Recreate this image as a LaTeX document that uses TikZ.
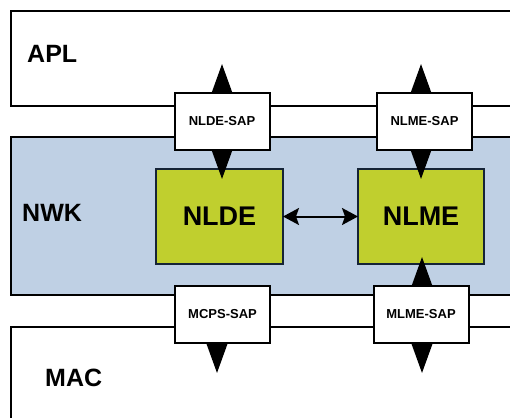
\documentclass[tikz,border=0pt]{standalone}
\usepackage{fontspec}
\setmainfont{Liberation Sans}
\usetikzlibrary{arrows.meta}
\definecolor{nwkblue}{RGB}{191,208,228}
\definecolor{entgreen}{RGB}{192,207,46}
\definecolor{entborder}{RGB}{22,36,54}
\begin{document}
\begin{tikzpicture}[x=1pt,y=-1pt,
  layer/.style={draw=black, line width=2pt, rectangle, anchor=north west, inner sep=0pt, outer sep=0pt},
  lbl/.style={font=\bfseries\fontsize{25}{28}\selectfont, anchor=west, inner sep=0pt},
  sap/.style={draw=black, fill=white, line width=2pt, rectangle, minimum width=95pt, minimum height=57pt, inner sep=0pt, outer sep=0pt, font=\bfseries\fontsize{13}{15}\selectfont},
  entity/.style={draw=entborder, fill=entgreen, line width=2pt, rectangle, minimum width=127pt, minimum height=95pt, inner sep=0pt, outer sep=0pt, font=\bfseries\fontsize{27}{30}\selectfont},
  bigdbl/.style={{Triangle[length=34pt,width=24pt]}-{Triangle[length=34pt,width=24pt]}, line width=2pt},
  bigone/.style={-{Triangle[length=34pt,width=24pt]}, line width=2pt},
  peer/.style={{Stealth[length=16pt,width=17pt,inset=3pt]}-{Stealth[length=16pt,width=17pt,inset=3pt]}, line width=2pt}
]
\clip (0,0) rectangle (510,417);
% layers
\node[layer, minimum width=530pt, minimum height=95pt] (apl) at (11,11) {};
\node[layer, fill=nwkblue, minimum width=530pt, minimum height=158pt] (nwk) at (11,137) {};
\node[layer, minimum width=530pt, minimum height=130pt] (mac) at (11,327) {};
\node[lbl] (apltxt) at (27,54) {APL};
\node[lbl] (nwktxt) at (22,213) {NWK};
\node[lbl] (mactxt) at (45,378) {MAC};
% entities
\node[entity] (nlde) at (219.5,216.5) {NLDE};
\node[entity, minimum width=126pt] (nlme) at (421,216.5) {NLME};
% SAP arrows
\coordinate (a1t) at (222,64);
\coordinate (a1b) at (222,179);
\coordinate (a2t) at (421,64);
\coordinate (a2b) at (421,179);
\coordinate (a3s) at (217,314);
\coordinate (a3b) at (217,373);
\coordinate (a4t) at (422,257);
\coordinate (a4b) at (422,373);
\draw[bigdbl] (a1t) -- (a1b);
\draw[bigdbl] (a2t) -- (a2b);
\draw[bigone] (a3s) -- (a3b);
\draw[bigdbl] (a4t) -- (a4b);
% SAP boxes
\node[sap] (nldesap) at (222,121.5) {NLDE-SAP};
\node[sap] (nlmesap) at (424.5,121.5) {NLME-SAP};
\node[sap] (mcpssap) at (222.5,314) {MCPS-SAP};
\node[sap] (mlmesap) at (421,314.5) {MLME-SAP};
% peer arrow
\draw[peer] (nlde.east) -- (nlme.west);
\end{tikzpicture}
\end{document}
